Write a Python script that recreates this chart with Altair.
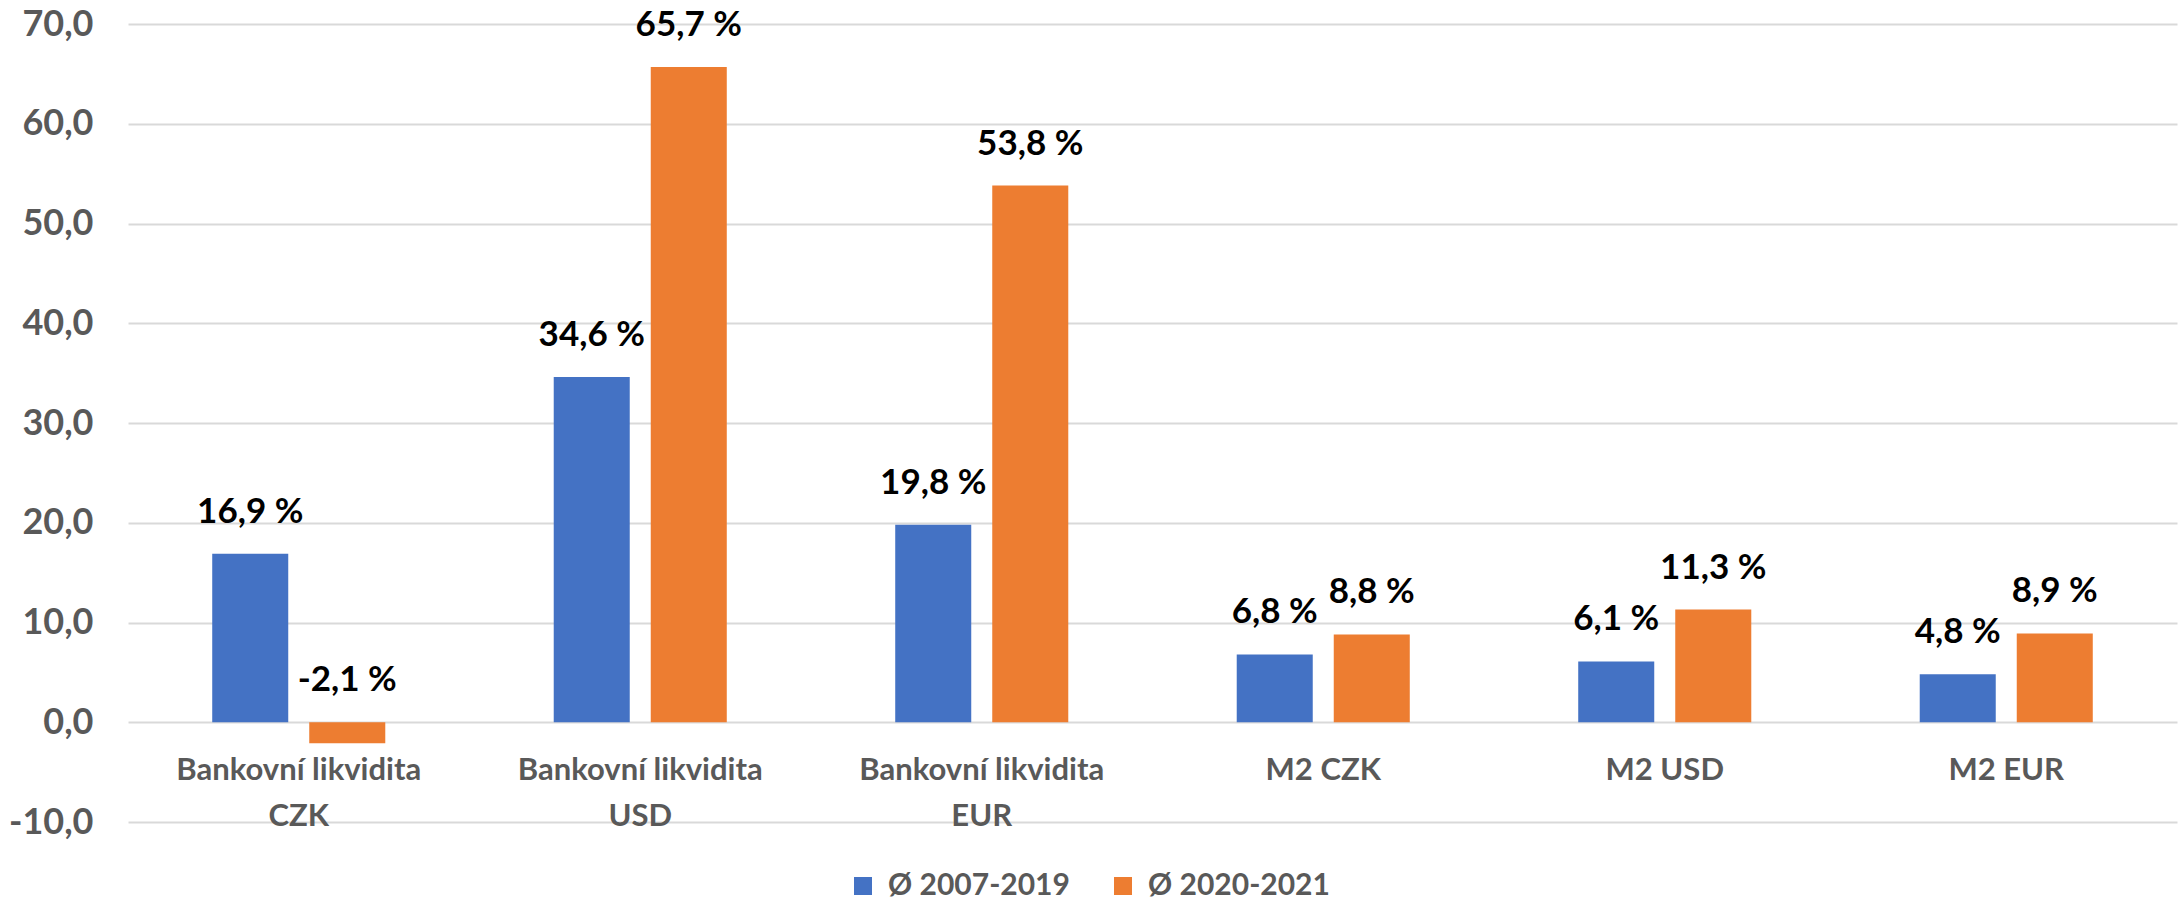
import altair as alt
import pandas as pd

categories = ["Bankovní likvidita CZK", "Bankovní likvidita USD", "Bankovní likvidita EUR",
              "M2 CZK", "M2 USD", "M2 EUR"]
series_names = ["Ø 2007-2019", "Ø 2020-2021"]
values_2007_2019 = [16.9, 34.6, 19.8, 6.8, 6.1, 4.8]
values_2020_2021 = [-2.1, 65.7, 53.8, 8.8, 11.3, 8.9]
y_ticks = [-10, 0, 10, 20, 30, 40, 50, 60, 70]
colors = ["#4472C4", "#ED7D31"]

rows = []
for c, v1, v2 in zip(categories, values_2007_2019, values_2020_2021):
    rows.append({"cat": c, "series": series_names[0], "value": v1})
    rows.append({"cat": c, "series": series_names[1], "value": v2})
df = pd.DataFrame(rows)

FONT = "Lato"
W, H = 2049, 798

x_enc = alt.X("cat:N", sort=categories, title=None,
              scale=alt.Scale(paddingInner=0, paddingOuter=0),
              axis=alt.Axis(domain=False, ticks=False, grid=False, labelAngle=0,
                            offset=-100, labelPadding=33, labelBaseline="top",
                            labelFont=FONT, labelFontSize=31, labelFontWeight="bold",
                            labelColor="#595959", labelLineHeight=46, labelLimit=600,
                            labelExpr="indexof(datum.label, 'likvidita') >= 0 ? ['Bankovní likvidita', replace(datum.label, 'Bankovní likvidita ', '')] : datum.label"))
xoff = alt.XOffset("series:N", sort=series_names,
                   scale=alt.Scale(paddingInner=0.2165, paddingOuter=0.868))

bars = alt.Chart(df).mark_bar().encode(
    x=x_enc,
    xOffset=xoff,
    y=alt.Y("value:Q", title=None,
            scale=alt.Scale(domain=[-10, 70], nice=False, zero=False),
            axis=alt.Axis(values=y_ticks, domain=False, ticks=False,
                          gridColor="#D9D9D9", gridWidth=2,
                          labelFont=FONT, labelFontSize=36, labelFontWeight="bold",
                          labelColor="#595959", labelPadding=35,
                          labelExpr="replace(replace(format(datum.value, '.1f'), '.', ','), '−', '-')")),
    color=alt.Color("series:N", sort=series_names,
                    scale=alt.Scale(domain=series_names, range=colors),
                    legend=alt.Legend(title=None, orient="none", direction="horizontal",
                                      legendX=720, legendY=847,
                                      symbolType="square", symbolSize=324,
                                      symbolStrokeWidth=0, labelFont=FONT,
                                      labelFontSize=30, labelFontWeight="bold",
                                      labelColor="#595959", labelOffset=10,
                                      columnPadding=38, labelLimit=400)),
)

labels = alt.Chart(df).transform_calculate(
    ypos="max(datum.value, 0)",
    txt="replace(replace(format(datum.value, '.1f'), '.', ','), '−', '-') + ' %'"
).mark_text(font=FONT, fontSize=35, fontWeight="bold", color="black",
            baseline="middle", dy=-42).encode(
    x=alt.X("cat:N", sort=categories),
    xOffset=alt.XOffset("series:N", sort=series_names),
    y=alt.Y("ypos:Q"),
    text="txt:N",
)

chart = alt.layer(bars, labels).properties(
    width=W, height=H,
    background="white",
    autosize=alt.AutoSizeParams(type="none"),
    padding={"left": 128, "top": 24, "right": 6, "bottom": 82},
).configure_view(stroke=None)

chart.save("out.html", embed_options={"renderer": "svg", "actions": False})
